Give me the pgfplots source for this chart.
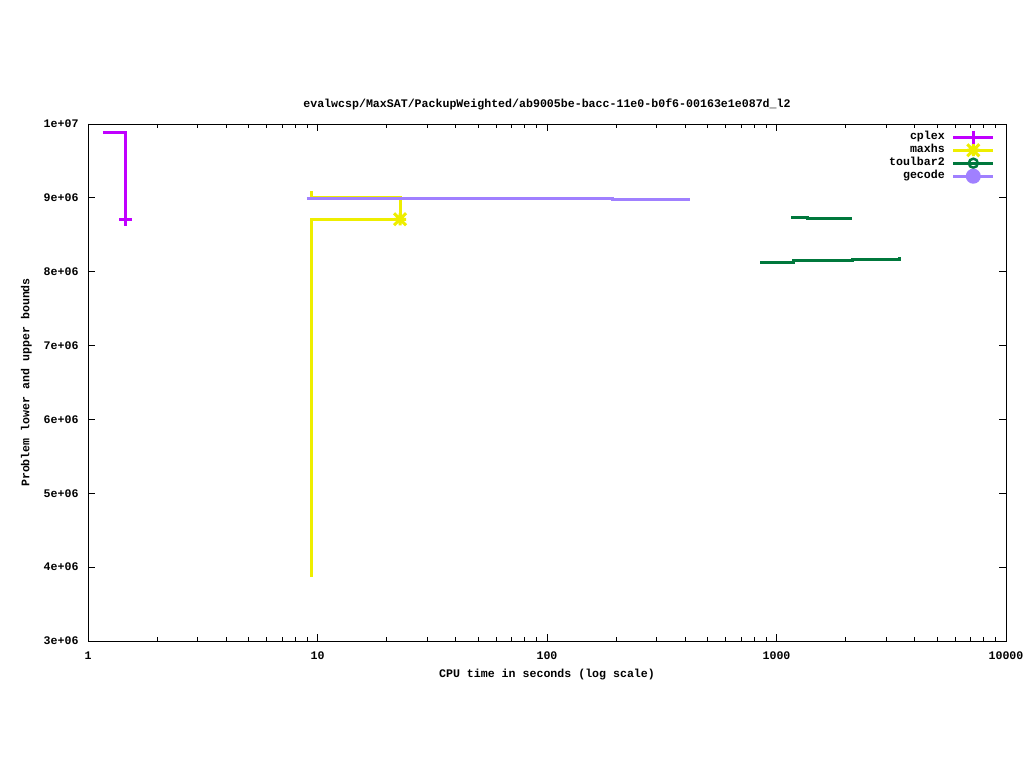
\documentclass[border=0pt]{standalone}
\usepackage{fontspec}
\setmonofont{Liberation Mono}
\usepackage{pgfplots}
\pgfplotsset{compat=1.18}
\definecolor{cplexc}{RGB}{192,0,255}
\definecolor{maxhsc}{RGB}{238,238,0}
\definecolor{toulc}{RGB}{0,120,60}
\definecolor{gecc}{RGB}{160,128,255}
\pgfdeclareplotmark{gstar}{%
 \pgfpathmoveto{\pgfqpoint{-\pgfplotmarksize}{0pt}}\pgfpathlineto{\pgfqpoint{\pgfplotmarksize}{0pt}}%
 \pgfpathmoveto{\pgfqpoint{0pt}{-\pgfplotmarksize}}\pgfpathlineto{\pgfqpoint{0pt}{\pgfplotmarksize}}%
 \pgfpathmoveto{\pgfqpoint{-\pgfplotmarksize}{-\pgfplotmarksize}}\pgfpathlineto{\pgfqpoint{\pgfplotmarksize}{\pgfplotmarksize}}%
 \pgfpathmoveto{\pgfqpoint{-\pgfplotmarksize}{\pgfplotmarksize}}\pgfpathlineto{\pgfqpoint{\pgfplotmarksize}{-\pgfplotmarksize}}%
 \pgfusepathqstroke}
\begin{document}
\begin{tikzpicture}[x=1pt,y=1pt]
\path[use as bounding box] (0,0) rectangle (1024,768);
\begin{axis}[
 at={(88pt,127pt)}, anchor=south west,
 scale only axis, width=918pt, height=517pt,
 xmode=log, xmin=1, xmax=10000, ymin=3e6, ymax=1e7,
 xtick={1,10,100,1000,10000}, xticklabels={1,10,100,1000,10000},
 ytick={3e6,4e6,5e6,6e6,7e6,8e6,9e6,1e7},
 yticklabels={3e+06,4e+06,5e+06,6e+06,7e+06,8e+06,9e+06,1e+07},
 scaled y ticks=false,
 font=\ttfamily\bfseries\fontsize{11.6}{13}\selectfont,
 title={evalwcsp/MaxSAT/PackupWeighted/ab9005be-bacc-11e0-b0f6-00163e1e087d\_l2},
 title style={yshift=5pt},
 xlabel={CPU time in seconds (log scale)},
 ylabel={Problem lower and upper bounds},
 xticklabel style={yshift=-7pt},
 yticklabel style={xshift=-6pt},
 xlabel style={yshift=-3pt},
 ylabel style={yshift=5pt},
 major tick length=7pt, minor tick length=4pt,
 tick style={black, line width=0.8pt},
 axis line style={line width=0.8pt},
 legend image code/.code={\draw[mark repeat=2,mark phase=2,#1] plot coordinates {(0pt,0pt) (20pt,0pt) (40pt,0pt)};},
 legend plot pos=right,
 legend cell align=right,
 legend style={at={(1,1)}, anchor=north east, xshift=-11pt, yshift=-6.5pt, draw=none, fill=none, inner sep=0pt, column sep=7pt, row sep=0pt, nodes={inner sep=0pt, text height=9pt, text depth=4pt}},
]
% cplex
\addplot[const plot, cplexc, line width=3pt, forget plot] coordinates {(1.16,9.89e6) (1.46,8.71e6)};
\addplot[only marks, cplexc, line width=3pt, mark=+, mark size=6.5pt, forget plot] coordinates {(1.46,8.71e6)};
% maxhs
\addplot[const plot, maxhsc, line width=3pt, forget plot] coordinates {(9.46,9.09e6) (9.46,9.01e6) (22.9,8.71e6)};
\addplot[const plot, maxhsc, line width=3pt, forget plot] coordinates {(9.46,3.87e6) (9.46,8.71e6) (22.9,8.71e6)};
\addplot[only marks, maxhsc, line width=3pt, mark=gstar, mark size=6pt, forget plot] coordinates {(22.9,8.71e6)};
% toulbar2
\addplot[const plot, toulc, line width=3pt, forget plot] coordinates {(1156,8.737e6) (1358,8.723e6) (2133,8.723e6)};
\addplot[const plot, toulc, line width=3pt, forget plot] coordinates {(848,8.128e6) (1180,8.155e6) (2154,8.172e6) (3418,8.20e6)};
% gecode
\addplot[const plot, gecc, line width=3pt, forget plot] coordinates {(9.0,8.985e6) (192,8.972e6) (420,8.972e6)};
% legend
\addlegendimage{cplexc, line width=3pt, mark=+, mark size=6.5pt}
\addlegendentry{cplex}
\addlegendimage{maxhsc, line width=3pt, mark=gstar, mark size=6pt}
\addlegendentry{maxhs}
\addlegendimage{toulc, line width=3pt, mark=o, mark size=4.5pt, mark options={line width=2.5pt}}
\addlegendentry{toulbar2}
\addlegendimage{gecc, line width=3pt, mark=*, mark size=6pt, mark options={fill=gecc, draw=gecc}}
\addlegendentry{gecode}
\end{axis}
\end{tikzpicture}
\end{document}
